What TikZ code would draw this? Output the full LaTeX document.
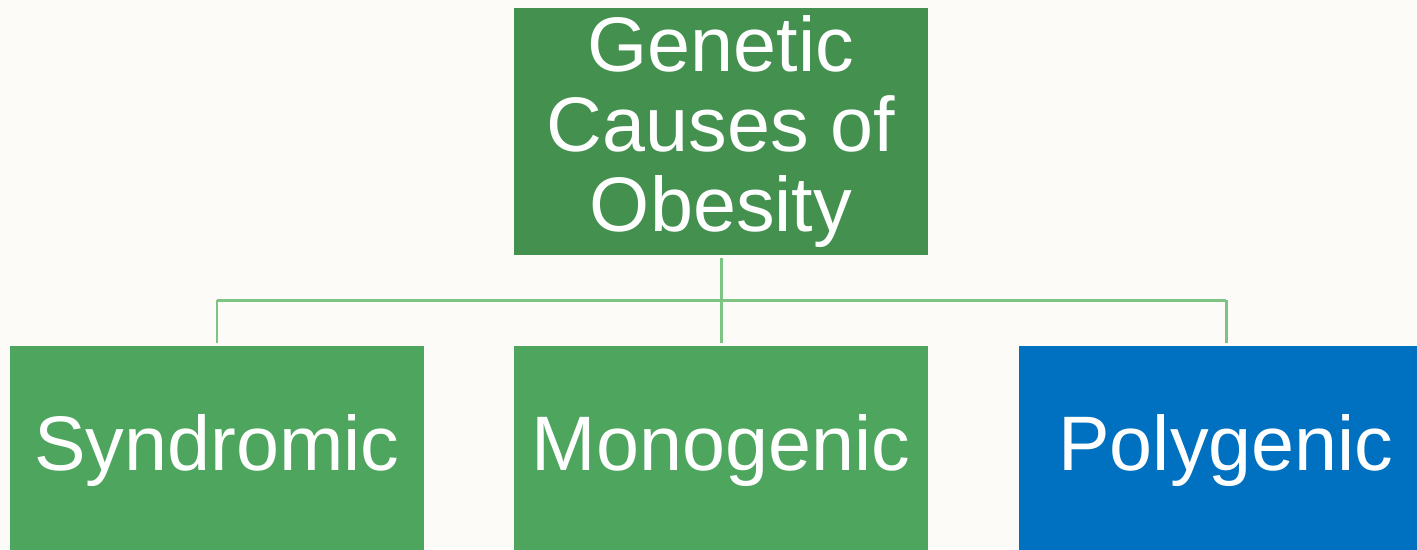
\documentclass[tikz,border=0pt]{standalone}
\usepackage{fontspec}
\setmainfont{Liberation Sans}
\definecolor{bgpaper}{HTML}{FCFBF7}
\definecolor{topgreen}{HTML}{44904F}
\definecolor{leafgreen}{HTML}{4EA55E}
\definecolor{leafblue}{HTML}{0070C0}
\definecolor{linkgreen}{HTML}{7DC383}
\tikzstyle{box} = [rectangle, inner sep=0pt, text=white, align=center, minimum width=8.28cm, font=\fontsize{44}{45.5}\selectfont]
\tikzstyle{root} = [box, fill=topgreen, minimum height=4.94cm]
\tikzstyle{leaf} = [box, minimum height=4.18cm]
\tikzstyle{link} = [draw, linkgreen, line width=1.7pt, -]

\begin{document}
\begin{tikzpicture}[x=0.02cm,y=-0.02cm]
       \fill[bgpaper] (0,0) rectangle (1417,549);
       \clip (0,0) rectangle (1417,549);
       \node[root] (cause) at (721,131.5) {Genetic\\Causes of\\Obesity};
       \foreach \pos/\name/\col/\txt in {{(217,450.5)/syn/leafgreen/Syndromic}, {(721,450.5)/mono/leafgreen/Monogenic}, {(1226,450.5)/poly/leafblue/Polygenic}} {
           \node[leaf, fill=\col] (\name) at \pos {\txt};
       }
       \coordinate (split) at (721,300);

       \path[link, shorten <=0.06cm] (cause.south) -- (split);
       \path[link] (split -| syn) -- (split -| poly);
       \foreach \sink in {syn, mono, poly} {
           \path[link, shorten >=0.06cm] (split -| \sink) -- (\sink.north);
       }
\end{tikzpicture}
\end{document}
